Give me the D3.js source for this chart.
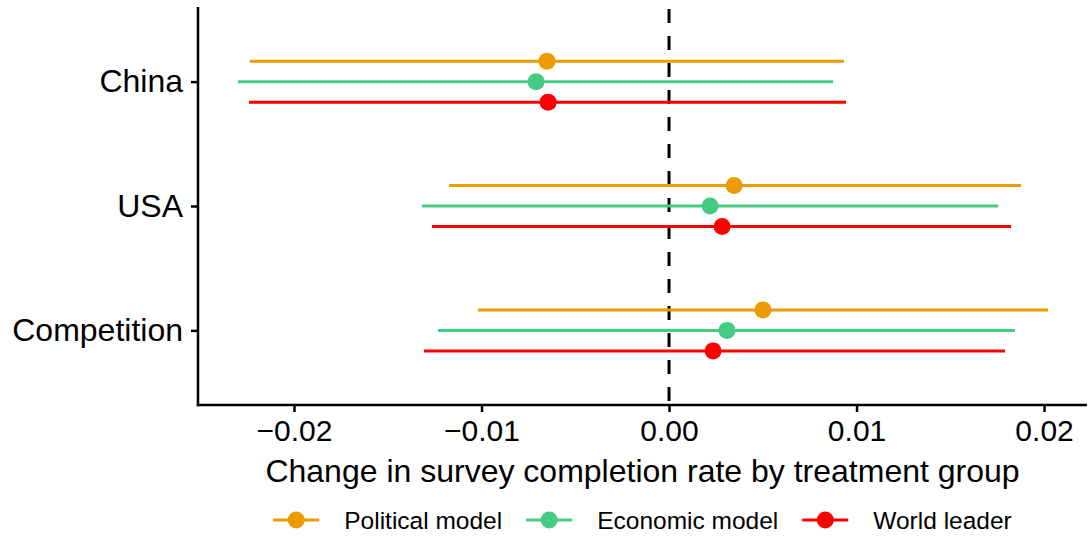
<!DOCTYPE html>
<html>
<head>
<meta charset="utf-8">
<script src="https://cdn.jsdelivr.net/npm/d3@7"></script>
<style>
  body { margin: 0; background: #fff; }
  text { font-family: "Liberation Sans", Arial, Helvetica, sans-serif; fill: #000; }
</style>
</head>
<body>
<script>
const width = 1089, height = 538;
const margin = ({ top: 7, right: 2, bottom: 133, left: 198 });

// data
const countries = ["China", "USA", "Competition"];
const groups = ["Political model", "Economic model", "World leader"];
const colors = ["#EC9B00", "#45CB82", "#FF0000"];
const xTicks = [-0.02, -0.01, 0, 0.01, 0.02];

// estimate, lower, upper per country (same order as countries)
const political = [
  [-0.00651, -0.02235, 0.00933],
  [0.00347, -0.01173, 0.01877],
  [0.00501, -0.01019, 0.02021]
];
const economic = [
  [-0.00709, -0.02299, 0.00875],
  [0.00219, -0.01317, 0.01755],
  [0.00309, -0.01232, 0.01845]
];
const worldLeader = [
  [-0.00645, -0.02240, 0.00944],
  [0.00283, -0.01264, 0.01824],
  [0.00235, -0.01307, 0.01792]
];

const series = [political, economic, worldLeader];
const rows = [];
series.forEach((s, gi) => s.forEach((v, ci) => rows.push({
  country: countries[ci], group: groups[gi], gi, est: v[0], lo: v[1], hi: v[2]
})));

const x = d3.scaleLinear()
  .domain([-0.02512, 0.02229])
  .range([margin.left, width - margin.right]);

const y = d3.scalePoint()
  .domain(countries)
  .range([margin.top, height - margin.bottom])
  .padding(0.6);

const dodge = d3.scalePoint()
  .domain(groups)
  .range([-20.5, 20.5]);

const color = d3.scaleOrdinal().domain(groups).range(colors);

const svg = d3.select("body").append("svg")
  .attr("width", width)
  .attr("height", height);

// zero reference line
svg.append("line")
  .attr("x1", x(0)).attr("x2", x(0))
  .attr("y1", margin.top).attr("y2", height - margin.bottom)
  .attr("stroke", "#000")
  .attr("stroke-width", 3)
  .attr("stroke-dasharray", "14,13")
  .attr("stroke-dashoffset", -2);

// intervals
svg.append("g")
  .selectAll("line")
  .data(rows)
  .join("line")
    .attr("x1", d => x(d.lo))
    .attr("x2", d => x(d.hi))
    .attr("y1", d => y(d.country) + dodge(d.group))
    .attr("y2", d => y(d.country) + dodge(d.group))
    .attr("stroke", d => color(d.group))
    .attr("stroke-width", 3);

// point estimates
svg.append("g")
  .selectAll("circle")
  .data(rows)
  .join("circle")
    .attr("cx", d => x(d.est))
    .attr("cy", d => y(d.country) + dodge(d.group))
    .attr("r", 8.5)
    .attr("fill", d => color(d.group));

// axes
const xAxis = g => g
  .attr("transform", `translate(0,${height - margin.bottom})`)
  .call(d3.axisBottom(x).tickValues(xTicks).tickSize(7).tickPadding(8)
    .tickFormat(d => d3.format(".2f")(d).replace("-", "\u2212")))
  .call(g => g.select(".domain").remove())
  .call(g => g.selectAll(".tick line").attr("stroke", "#000").attr("stroke-width", 2.5))
  .call(g => g.selectAll(".tick text").attr("font-size", 30).attr("fill", "#000"));

const yAxis = g => g
  .attr("transform", `translate(${margin.left},0)`)
  .call(d3.axisLeft(y).tickSize(7).tickPadding(8))
  .call(g => g.select(".domain").remove())
  .call(g => g.selectAll(".tick line").attr("stroke", "#000").attr("stroke-width", 2.5))
  .call(g => g.selectAll(".tick text").attr("font-size", 32).attr("fill", "#000"));

svg.append("g").call(xAxis).attr("font-family", null);
svg.append("g").call(yAxis).attr("font-family", null);

// axis lines
svg.append("line")
  .attr("x1", margin.left).attr("x2", margin.left)
  .attr("y1", margin.top).attr("y2", height - margin.bottom + 1.25)
  .attr("stroke", "#000").attr("stroke-width", 2.5);
svg.append("line")
  .attr("x1", margin.left - 1.25).attr("x2", width - margin.right)
  .attr("y1", height - margin.bottom).attr("y2", height - margin.bottom)
  .attr("stroke", "#000").attr("stroke-width", 2.5);

// x title
svg.append("text")
  .attr("x", (margin.left + width - margin.right) / 2)
  .attr("y", 482)
  .attr("text-anchor", "middle")
  .attr("font-size", 32)
  .text("Change in survey completion rate by treatment group");

// legend
const legend = svg.append("g");
const items = legend.selectAll("g")
  .data(groups)
  .join("g");
items.append("line")
  .attr("x1", 0).attr("x2", 46)
  .attr("stroke", d => color(d)).attr("stroke-width", 3);
items.append("circle")
  .attr("cx", 23).attr("r", 8.5)
  .attr("fill", d => color(d));
items.append("text")
  .attr("x", 71)
  .attr("dy", "0.35em")
  .attr("font-size", 24.5)
  .text(d => d);

let offset = 0;
const widths = items.nodes().map(n => 71 + d3.select(n).select("text").node().getComputedTextLength());
const gap = 24;
const total = d3.sum(widths) + gap * (widths.length - 1);
const start = (margin.left + width - margin.right) / 2 - total / 2;
items.attr("transform", (d, i) => {
  const tx = start + offset;
  offset += widths[i] + gap;
  return `translate(${tx},520)`;
});
</script>
</body>
</html>
